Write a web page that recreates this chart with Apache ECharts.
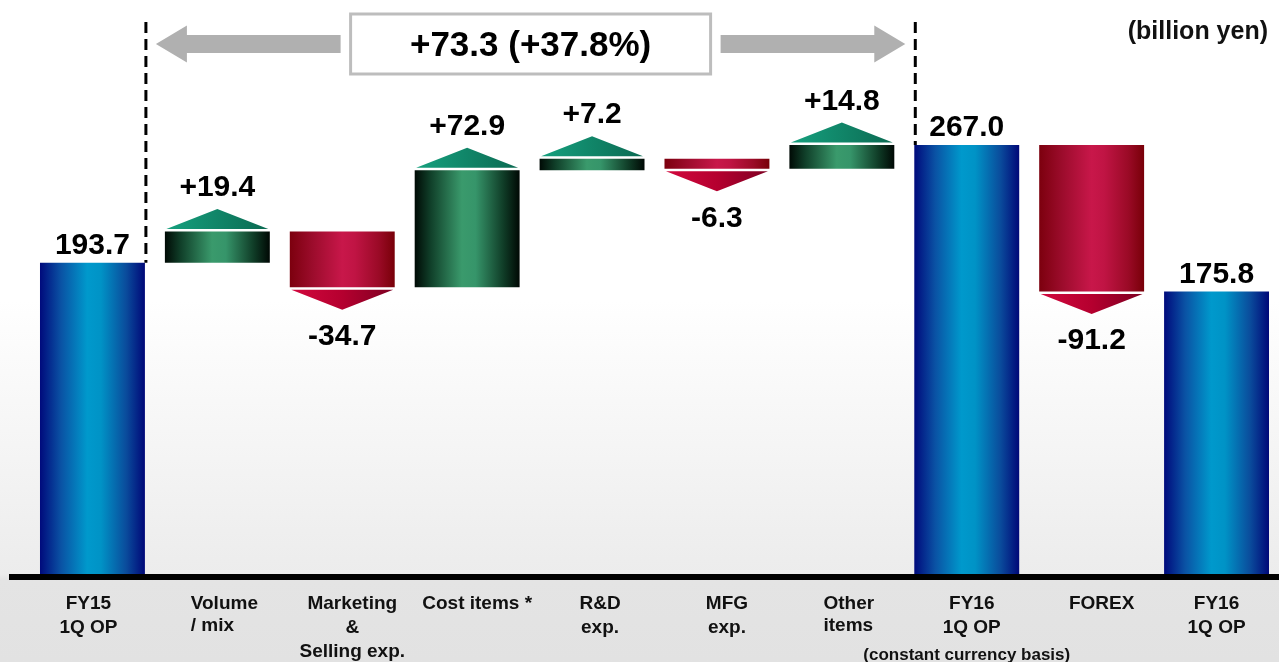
<!DOCTYPE html>
<html>
<head>
<meta charset="utf-8">
<script src="https://cdn.jsdelivr.net/npm/echarts@6/dist/echarts.min.js"></script>
<style>
  html, body { margin: 0; padding: 0; }
  #chart {
    width: 1279px; height: 662px;
    background: linear-gradient(to bottom, #ffffff 0px, #ffffff 300px, #ececec 574px, #e4e4e4 580px, #e2e2e2 662px);
  }
</style>
</head>
<body>
<div id="chart"></div>
<script>
// Operating profit bridge, FY15 1Q -> FY16 1Q (billion yen)
const categories = [
  'FY15\n1Q OP',
  'Volume\n/ mix',
  'Marketing\n&\nSelling exp.',
  'Cost items *',
  'R&D\nexp.',
  'MFG\nexp.',
  'Other\nitems',
  'FY16\n1Q OP\n(constant currency basis)',
  'FOREX',
  'FY16\n1Q OP'
];
// totals are absolute levels, the others are changes
const values = [193.7, 19.4, -34.7, 72.9, 7.2, -6.3, 14.8, 267.0, -91.2, 175.8];
const kinds  = ['total', 'delta', 'delta', 'delta', 'delta', 'delta', 'delta', 'total', 'delta', 'total'];
const unitLabel = '(billion yen)';
// bracket spans from the FY15 total to the constant-currency FY16 total
const bracketFrom = 0;
const bracketTo = 7;

// build [index, low-end, high-end] spans for each column
const spans = [];
let level = 0;
values.forEach((v, i) => {
  if (kinds[i] === 'total') {
    spans.push([i, 0, v]);
    level = v;
  } else {
    spans.push([i, level, level + v]);
    level += v;
  }
});

const fmt = (v, i) => {
  if (kinds[i] === 'total') return v.toFixed(1);
  return (v > 0 ? '+' : '') + v.toFixed(1);
};

const FONT = '"Liberation Sans", Arial, Helvetica, sans-serif';

function hGrad(stops) {
  return new echarts.graphic.LinearGradient(0, 0, 1, 0,
    stops.map(s => ({ offset: s[0], color: s[1] })));
}
const bodyFill = {
  total: () => hGrad([[0, '#000a7c'], [0.2, '#0a52a4'], [0.45, '#0099cc'], [0.58, '#0093c6'], [0.82, '#0a4c9c'], [1, '#000878']]),
  up: () => hGrad([[0, '#000a05'], [0.15, '#103f29'], [0.45, '#3a9a6c'], [0.58, '#36956a'], [0.85, '#0f3b26'], [1, '#000804']]),
  down: () => hGrad([[0, '#7c000e'], [0.22, '#9c0c2c'], [0.5, '#c8174a'], [0.62, '#c01444'], [0.85, '#9a0a26'], [1, '#780008']])
};
const headFill = {
  up: () => hGrad([[0, '#16a07e'], [1, '#0b6a52']]),
  down: () => hGrad([[0, '#d2083e'], [0.5, '#b5002f'], [1, '#7e0022']])
};

function renderColumn(params, api) {
  const i = params.dataIndex;
  const lo = api.value(1), hi = api.value(2);
  const pA = api.coord([api.value(0), lo]);
  const pB = api.coord([api.value(0), hi]);
  const cx = pA[0];
  const bw = api.size([1, 0])[0] * 0.84;
  const yTop = Math.min(pA[1], pB[1]);
  const yBot = Math.max(pA[1], pB[1]);
  const v = values[i];
  const kind = kinds[i] === 'total' ? 'total' : (v >= 0 ? 'up' : 'down');
  const children = [{
    type: 'rect',
    shape: { x: cx - bw / 2, y: yTop, width: bw, height: yBot - yTop },
    style: { fill: bodyFill[kind]() }
  }];
  const gap = 2.5, headH = 20, hw = bw / 2 - 1.5;
  let labelY;
  if (kind === 'up') {
    const base = yTop - gap, apex = base - headH;
    children.push({
      type: 'polygon',
      shape: { points: [[cx - hw, base], [cx + hw, base], [cx, apex]] },
      style: { fill: headFill.up() }
    });
    labelY = apex - 21;
  } else if (kind === 'down') {
    const base = yBot + gap, apex = base + headH;
    children.push({
      type: 'polygon',
      shape: { points: [[cx - hw, base], [cx + hw, base], [cx, apex]] },
      style: { fill: headFill.down() }
    });
    labelY = apex + 27;
  } else {
    labelY = yTop - 17;
  }
  children.push({
    type: 'text',
    style: {
      x: cx, y: labelY, text: fmt(v, i),
      align: 'center', verticalAlign: 'middle',
      font: 'bold 30px ' + FONT, fill: '#000'
    }
  });
  return { type: 'group', children };
}

function renderBracket(params, api) {
  const bw = api.size([1, 0])[0] * 0.84;
  const pL = api.coord([bracketFrom, values[bracketFrom]]);
  const pR = api.coord([bracketTo, values[bracketTo]]);
  const xL = pL[0] + bw / 2 + 1;
  const xR = pR[0] - bw / 2 + 1;
  const topY = 22, cy = 44;
  const mid = (xL + xR) / 2;
  const boxW = 360, boxH = 60;
  const headL = 31, headHalf = 18.5, shaftHalf = 9;
  const arrowFill = '#b0b0b0';
  const lA = xL + 10, lB = mid - boxW / 2 - 10;
  const rA = mid + boxW / 2 + 10, rB = xR - 10;
  const diff = values[bracketTo] - values[bracketFrom];
  const pct = diff / values[bracketFrom] * 100;
  return {
    type: 'group',
    children: [
      { type: 'line', shape: { x1: xL, y1: topY, x2: xL, y2: pL[1] },
        style: { stroke: '#000', lineWidth: 3, lineDash: [11, 6] } },
      { type: 'line', shape: { x1: xR, y1: topY, x2: xR, y2: pR[1] },
        style: { stroke: '#000', lineWidth: 3, lineDash: [11, 6] } },
      { type: 'polygon', shape: { points: [
          [lA, cy], [lA + headL, cy - headHalf], [lA + headL, cy - shaftHalf], [lB, cy - shaftHalf],
          [lB, cy + shaftHalf], [lA + headL, cy + shaftHalf], [lA + headL, cy + headHalf]] },
        style: { fill: arrowFill } },
      { type: 'polygon', shape: { points: [
          [rB, cy], [rB - headL, cy - headHalf], [rB - headL, cy - shaftHalf], [rA, cy - shaftHalf],
          [rA, cy + shaftHalf], [rB - headL, cy + shaftHalf], [rB - headL, cy + headHalf]] },
        style: { fill: arrowFill } },
      { type: 'rect', shape: { x: mid - boxW / 2, y: cy - boxH / 2, width: boxW, height: boxH },
        style: { fill: '#fff', stroke: '#bdbdbd', lineWidth: 3 } },
      { type: 'text', style: {
          x: mid, y: cy + 2, align: 'center', verticalAlign: 'middle',
          text: (diff >= 0 ? '+' : '') + diff.toFixed(1) + ' (' + (pct >= 0 ? '+' : '') + pct.toFixed(1) + '%)',
          font: 'bold 35px ' + FONT, fill: '#000' } }
    ]
  };
}

// category label layout: horizontal nudge per column (px) and left-aligned blocks
const labelNudge = [-4, 7, 10, 10, 8, 10, 7, 5, 10, 0];
const leftAligned = { 1: true, 6: true };
const labelRich = {};
labelNudge.forEach((s, i) => {
  const pad = s >= 0 ? [0, 0, 0, 2 * s] : [0, -2 * s, 0, 0];
  const base = { fontFamily: FONT, fontWeight: 'bold', color: '#111', padding: pad };
  labelRich['n' + i] = Object.assign({}, base, { fontSize: 19, lineHeight: 24 });
  labelRich['l' + i] = Object.assign({}, base, { fontSize: 19, lineHeight: 20, align: 'left' });
  labelRich['s' + i] = Object.assign({}, base, { fontSize: 17, lineHeight: 30, padding: [0, 0, 0, 0] });
});

const chart = echarts.init(document.getElementById('chart'), null, { renderer: 'canvas' });
chart.setOption({
  backgroundColor: 'transparent',
  animation: false,
  title: {
    text: unitLabel, right: 6, top: 15,
    textStyle: { fontFamily: FONT, fontWeight: 'bold', fontSize: 25, color: '#111' }
  },
  // fixed plot box: the category labels may run to the canvas edge
  grid: { left: 30, right: 0, top: 92, bottom: 88, outerBoundsMode: 'none', containLabel: false },
  xAxis: {
    type: 'category',
    data: categories,
    offset: 3,
    axisLine: { show: false },
    axisTick: { show: false },
    axisLabel: {
      interval: 0,
      margin: 15,
      formatter: (val, idx) => {
        const lines = val.split('\n');
        const first = leftAligned[idx] ? 'l' : 'n';
        return lines.map((line, k) => {
          let st = line.startsWith('(') ? 's' : first;
          if (st === 'l' && k === 0) st = 'n';
          return '{' + st + idx + '|' + line + '}';
        }).join('\n');
      },
      rich: labelRich
    }
  },
  yAxis: { type: 'value', min: 0, max: 300, show: false, splitLine: { show: false } },
  series: [
    { type: 'custom', data: spans, renderItem: renderColumn, clip: false, z: 3 },
    { type: 'custom', data: [[bracketFrom, 0, 0]], renderItem: renderBracket, clip: false, z: 2, silent: true }
  ]
});

// heavy baseline rule, placed right under the zero level of the value axis
const zeroY = chart.convertToPixel({ gridIndex: 0 }, [0, 0])[1];
chart.setOption({
  graphic: [
    { type: 'rect', left: 9, top: Math.round(zeroY), shape: { width: 1270, height: 6 }, style: { fill: '#000' }, z: 5 }
  ]
});
</script>
</body>
</html>
